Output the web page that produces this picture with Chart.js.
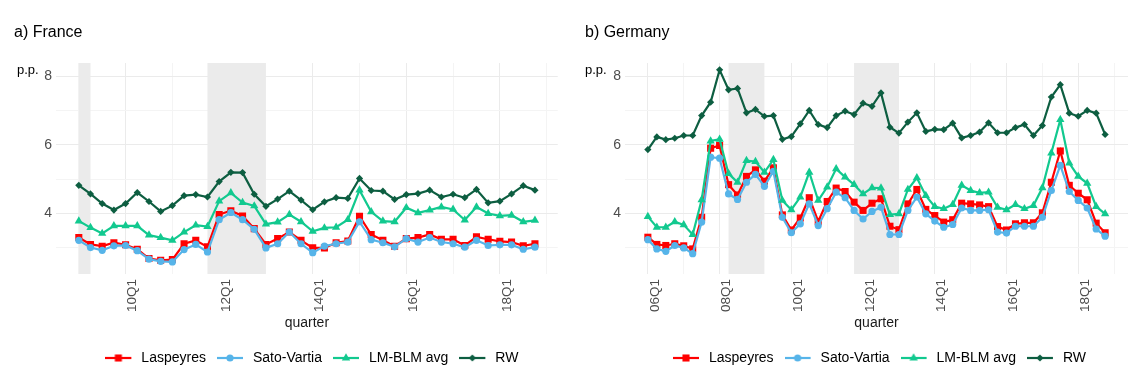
<!DOCTYPE html>
<html>
<head>
<meta charset="utf-8">
<script src="https://cdn.jsdelivr.net/npm/chart.js@4.4.1/dist/chart.umd.min.js"></script>
<style>
  body { margin: 0; background: #fff; }
  #wrap { position: relative; width: 1136px; height: 390px; }
  canvas { position: absolute; top: 0; }
</style>
</head>
<body>
<div id="wrap">
  <canvas id="fr" width="568" height="390" style="left:0"></canvas>
  <canvas id="de" width="568" height="390" style="left:568px"></canvas>
</div>
<script>
const FONT = '"Liberation Sans", Arial, sans-serif';

// France, 09Q1 - 18Q4
const startFR = 2009;
const laspFR = [3.30, 3.10, 3.05, 3.15, 3.09, 2.96, 2.69, 2.64, 2.66, 3.12,
                3.22, 3.03, 3.97, 4.08, 3.93, 3.56, 3.10, 3.27, 3.46, 3.22,
                3.00, 3.00, 3.15, 3.20, 3.92, 3.39, 3.22, 3.05, 3.27, 3.30,
                3.39, 3.25, 3.25, 3.07, 3.32, 3.25, 3.19, 3.17, 3.06, 3.12];
const satoFR = [3.22, 3.01, 2.93, 3.06, 3.07, 2.92, 2.67, 2.61, 2.59, 2.95,
                3.10, 2.88, 3.82, 4.03, 3.82, 3.54, 3.00, 3.12, 3.46, 3.12,
                2.86, 3.05, 3.12, 3.17, 3.76, 3.24, 3.15, 3.03, 3.27, 3.17,
                3.30, 3.17, 3.12, 3.02, 3.22, 3.07, 3.09, 3.09, 2.96, 3.02];
const lmFR   = [3.78, 3.59, 3.42, 3.64, 3.64, 3.64, 3.37, 3.30, 3.22, 3.46,
                3.66, 3.62, 4.36, 4.60, 4.32, 4.22, 3.69, 3.75, 3.97, 3.76,
                3.48, 3.58, 3.60, 3.82, 4.68, 4.05, 3.78, 3.76, 4.17, 4.02,
                4.10, 4.19, 4.12, 3.81, 4.19, 4.00, 3.93, 3.95, 3.76, 3.80];
const rwFR   = [4.82, 4.57, 4.29, 4.10, 4.29, 4.61, 4.35, 4.06, 4.23, 4.52,
                4.55, 4.48, 4.93, 5.20, 5.19, 4.56, 4.21, 4.42, 4.65, 4.39,
                4.11, 4.34, 4.46, 4.44, 5.02, 4.67, 4.65, 4.41, 4.55, 4.58,
                4.68, 4.48, 4.56, 4.46, 4.70, 4.31, 4.36, 4.57, 4.81, 4.68];
const bandsFR = [["09Q1", "09Q2"], ["11Q4", "13Q1"]];
const xTicksFR = ["10Q1", "12Q1", "14Q1", "16Q1", "18Q1"];
const xMinorFR = ["09Q1", "11Q1", "13Q1", "15Q1", "17Q1", "19Q1"];

// Germany, 06Q1 - 18Q4
const startDE = 2006;
const laspDE = [3.31, 3.10, 3.07, 3.12, 3.06, 2.97, 3.89, 5.90, 5.98, 4.84,
                4.54, 5.08, 5.27, 4.94, 5.33, 3.96, 3.52, 3.87, 4.46, 3.77,
                4.35, 4.74, 4.64, 4.33, 4.09, 4.30, 4.43, 3.63, 3.53, 4.28,
                4.70, 4.12, 3.94, 3.75, 3.82, 4.30, 4.28, 4.25, 4.20, 3.62,
                3.52, 3.70, 3.73, 3.73, 4.02, 4.91, 5.82, 4.82, 4.59, 4.40,
                3.72, 3.44];
const satoDE = [3.24, 2.97, 2.90, 3.07, 3.00, 2.83, 3.75, 5.64, 5.61, 4.57,
                4.41, 4.91, 5.14, 4.79, 5.23, 3.89, 3.44, 3.70, 4.28, 3.65,
                4.14, 4.62, 4.46, 4.09, 3.84, 4.06, 4.18, 3.39, 3.39, 4.09,
                4.48, 3.99, 3.78, 3.60, 3.68, 4.16, 4.09, 4.09, 4.11, 3.46,
                3.43, 3.63, 3.63, 3.63, 3.89, 4.67, 5.40, 4.64, 4.38, 4.16,
                3.55, 3.34];
const lmDE   = [3.91, 3.60, 3.60, 3.76, 3.67, 3.39, 4.40, 6.11, 6.16, 5.16,
                4.91, 5.54, 5.51, 5.20, 5.57, 4.38, 4.11, 4.48, 5.20, 4.38,
                4.77, 5.30, 5.06, 4.84, 4.57, 4.75, 4.74, 3.97, 3.99, 4.70,
                5.04, 4.52, 4.20, 4.14, 4.26, 4.82, 4.67, 4.60, 4.62, 4.18,
                4.11, 4.26, 4.14, 4.23, 4.75, 5.76, 6.73, 5.47, 5.08, 4.88,
                4.20, 3.99];
const rwDE   = [5.86, 6.23, 6.15, 6.19, 6.27, 6.27, 6.85, 7.24, 8.18, 7.60,
                7.64, 6.93, 7.03, 6.83, 6.85, 6.16, 6.24, 6.61, 7.00, 6.59,
                6.50, 6.85, 6.98, 6.88, 7.21, 7.12, 7.51, 6.51, 6.34, 6.66,
                6.93, 6.39, 6.45, 6.44, 6.63, 6.20, 6.27, 6.37, 6.64, 6.35,
                6.35, 6.50, 6.59, 6.27, 6.56, 7.39, 7.75, 6.92, 6.83, 7.00,
                6.92, 6.30];
const bandsDE = [["08Q2", "09Q2"], ["11Q4", "13Q1"]];
const xTicksDE = ["06Q1", "08Q1", "10Q1", "12Q1", "14Q1", "16Q1", "18Q1"];
const xMinorDE = ["07Q1", "09Q1", "11Q1", "13Q1", "15Q1", "17Q1", "19Q1"];

const yTicks = [4, 6, 8];
const yMinor = [3, 5, 7];
const seriesNames = ["Laspeyres", "Sato-Vartia", "LM-BLM avg", "RW"];
const seriesColors = ["#ff0000", "#56b4e9", "#12c98f", "#0d5e41"];
const seriesShapes = ["rect", "circle", "triangle", "rectRot"];
const seriesRadius = [5, 3.6, 4.8, 3.6];

// "09Q2" -> position in quarters from Q1 of the start year
function qIndex(label, start) {
  const yr = 2000 + parseInt(label.slice(0, 2), 10);
  const q = parseInt(label.slice(3), 10);
  return (yr - start) * 4 + (q - 1);
}

function drawShape(g, shape, x, y, r) {
  g.beginPath();
  if (shape === "rect") {
    const s = r * Math.SQRT1_2;
    g.rect(x - s, y - s, 2 * s, 2 * s);
  } else if (shape === "circle") {
    g.arc(x, y, r, 0, Math.PI * 2);
  } else if (shape === "triangle") {
    for (let k = 0; k < 3; k++) {
      const a = k * 2 * Math.PI / 3;
      g[k ? "lineTo" : "moveTo"](x + Math.sin(a) * r, y - Math.cos(a) * r);
    }
    g.closePath();
  } else {
    g.moveTo(x, y - r); g.lineTo(x + r, y); g.lineTo(x, y + r); g.lineTo(x - r, y);
    g.closePath();
  }
  g.fill();
}

// legend key: short line with the marker in the middle
function keyImage(i) {
  const c = document.createElement("canvas");
  c.width = 29; c.height = 12;
  const g = c.getContext("2d");
  g.strokeStyle = seriesColors[i];
  g.fillStyle = seriesColors[i];
  g.lineWidth = 2.2;
  g.beginPath(); g.moveTo(0, 6); g.lineTo(26, 6); g.stroke();
  drawShape(g, seriesShapes[i], 13, 6, seriesRadius[i]);
  return c;
}

const decor = {
  id: "decor",
  afterLayout(chart, args, o) {
    // nudge the legend a little to the right, like the original
    chart.legend.left += o.legendShift;
    chart.legend.right += o.legendShift;
  },
  beforeDatasetsDraw(chart, args, o) {
    const { ctx, chartArea: a, scales: { x } } = chart;
    ctx.save();
    ctx.fillStyle = "#ebebeb";
    o.bands.forEach(([s, e]) => {
      const x0 = x.getPixelForValue(qIndex(s, o.start));
      const x1 = x.getPixelForValue(qIndex(e, o.start));
      ctx.fillRect(x0, a.top, x1 - x0, a.bottom - a.top);
    });
    ctx.restore();
  },
  afterDraw(chart, args, o) {
    const ctx = chart.ctx;
    ctx.save();
    ctx.fillStyle = "#000";
    ctx.textBaseline = "middle";
    ctx.font = "16px " + FONT;
    ctx.fillText(o.title, o.titleX, 33);
    ctx.font = "13px " + FONT;
    ctx.fillText("p.p.", o.ppX, 70);
    ctx.restore();
  }
};

function makeChart(id, cfg) {
  const all = [cfg.lasp, cfg.sato, cfg.lm, cfg.rw];
  const n = cfg.lasp.length;
  const spread = (n - 1) * 0.05;
  const majors = cfg.ticks.map(l => qIndex(l, cfg.start));
  const minors = cfg.minor.map(l => qIndex(l, cfg.start));
  const xGrid = majors.concat(minors).sort((a, b) => a - b);

  return new Chart(document.getElementById(id), {
    type: "line",
    data: {
      datasets: all.map((vals, i) => ({
        label: seriesNames[i],
        data: vals.map((v, k) => ({ x: k, y: v })),
        borderColor: seriesColors[i],
        backgroundColor: seriesColors[i],
        pointBackgroundColor: seriesColors[i],
        pointStyle: seriesShapes[i],
        pointRadius: seriesRadius[i],
        pointBorderWidth: 0,
        borderWidth: 2.2,
        tension: 0,
        order: 4 - i
      }))
    },
    options: {
      responsive: false,
      animation: false,
      events: [],
      layout: { padding: { left: 0, right: cfg.padRight, top: 63, bottom: 15 } },
      scales: {
        x: {
          type: "linear",
          min: -spread,
          max: n - 1 + spread,
          afterBuildTicks: s => { s.ticks = xGrid.map(v => ({ value: v })); },
          afterFit: s => { s.height = 66; },
          ticks: {
            autoSkip: false,
            minRotation: 90,
            maxRotation: 90,
            padding: 5,
            labelOffset: 7,
            color: "#4d4d4d",
            font: { size: 13.5, family: FONT },
            callback: v => {
              const k = majors.indexOf(v);
              return k >= 0 ? cfg.ticks[k] : "";
            }
          },
          grid: {
            drawTicks: false,
            color: c => majors.includes(c.tick && c.tick.value) ? "#ebebeb" : "#f4f4f4",
            lineWidth: 1
          },
          border: { display: false },
          title: {
            display: true,
            text: "quarter",
            color: "#1a1a1a",
            font: { size: 14, family: FONT },
            padding: { top: 0, bottom: 8 }
          }
        },
        y: {
          min: 2.24,
          max: 8.38,
          afterBuildTicks: s => { s.ticks = yMinor.concat(yTicks).sort().map(v => ({ value: v })); },
          afterFit: s => { s.width = cfg.yWidth; },
          ticks: {
            padding: 4,
            color: "#4d4d4d",
            font: { size: 14, family: FONT },
            callback: v => yTicks.includes(v) ? String(v) : ""
          },
          grid: {
            drawTicks: false,
            color: c => yTicks.includes(c.tick && c.tick.value) ? "#ebebeb" : "#f4f4f4",
            lineWidth: 1
          },
          border: { display: false }
        }
      },
      plugins: {
        tooltip: { enabled: false },
        legend: {
          position: "bottom",
          fullSize: false,
          labels: {
            usePointStyle: true,
            pointStyleWidth: 29,
            padding: 11,
            color: "#1a1a1a",
            font: { size: 14, family: FONT },
            generateLabels: chart => chart.data.datasets.map((ds, i) => ({
              text: ds.label,
              pointStyle: keyImage(i),
              fillStyle: ds.borderColor,
              strokeStyle: ds.borderColor,
              lineWidth: 0,
              hidden: false,
              datasetIndex: i
            }))
          }
        },
        decor: {
          title: cfg.title, titleX: cfg.titleX, ppX: 17,
          bands: cfg.bands, start: cfg.start, legendShift: cfg.legendShift
        }
      }
    },
    plugins: [decor]
  });
}

makeChart("fr", {
  title: "a) France", titleX: 14, start: startFR,
  lasp: laspFR, sato: satoFR, lm: lmFR, rw: rwFR,
  bands: bandsFR, ticks: xTicksFR, minor: xMinorFR,
  yWidth: 56, padRight: 7, legendShift: 5
});

makeChart("de", {
  title: "b) Germany", titleX: 17, start: startDE,
  lasp: laspDE, sato: satoDE, lm: lmDE, rw: rwDE,
  bands: bandsDE, ticks: xTicksDE, minor: xMinorDE,
  yWidth: 57, padRight: 8, legendShift: 3
});
</script>
</body>
</html>
